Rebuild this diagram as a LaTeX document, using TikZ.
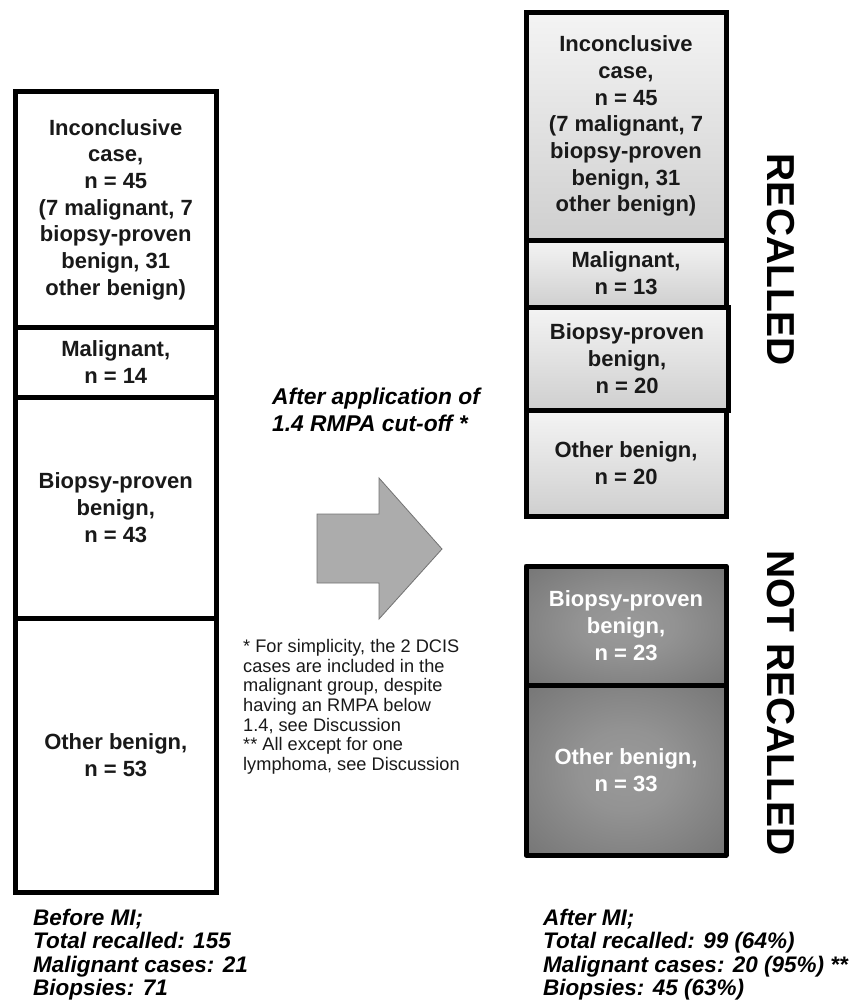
\documentclass[tikz,border=0pt]{standalone}
\usepackage{fontspec}
\setmainfont{Liberation Sans}
\definecolor{nrin}{HTML}{9A9A9A}
\definecolor{nrout}{HTML}{6A6A6A}
\definecolor{rtop}{HTML}{F4F4F4}
\definecolor{rbot}{HTML}{CFCFCF}
\pgfdeclareradialshading{softglow}{\pgfpoint{0bp}{0bp}}{color(0bp)=(nrin); color(12bp)=(nrin!85!nrout); color(45bp)=(nrout); color(71bp)=(nrout)}
\begin{document}
\begin{tikzpicture}[x=1pt,y=-1pt,
  colbox/.style={draw=black, line width=5pt, align=center, inner sep=0pt,
    font=\fontsize{22}{26.7}\selectfont\bfseries, text=black!90},
  plainbox/.style={colbox, fill=white},
  recbox/.style={colbox, top color=rtop, bottom color=rbot},
  notbox/.style={colbox, shading=softglow, line join=round, text=white},
  sidelabel/.style={rotate=-90, font=\fontsize{39}{40}\selectfont\bfseries},
  notes/.style={anchor=north west, inner sep=0pt, align=left},
]
\useasboundingbox (0,0) rectangle (862,1008);

% left column
\node[plainbox, minimum width=200.5pt, minimum height=235pt] (linc) at (115.75,209.5)
  {Inconclusive\\case,\\n = 45\\(7 malignant, 7\\biopsy-proven\\benign, 31\\other benign)};
\node[plainbox, minimum width=200.5pt, minimum height=70.5pt] (lmal) at (115.75,362.25)
  {Malignant,\\n = 14};
\node[plainbox, minimum width=200.5pt, minimum height=220.5pt] (lbio) at (115.75,507.75)
  {Biopsy-proven\\benign,\\n = 43};
\node[plainbox, minimum width=200.5pt, minimum height=274.5pt] (loth) at (115.75,755.25)
  {Other benign,\\n = 53};

% right column, recalled
\node[recbox, minimum width=200pt, minimum height=227.5pt] (rinc) at (626,126.25)
  {Inconclusive\\case,\\n = 45\\(7 malignant, 7\\biopsy-proven\\benign, 31\\other benign)};
\node[recbox, minimum width=200pt, minimum height=67pt] (rmal) at (626,273.5)
  {Malignant,\\n = 13};
\node[recbox, minimum width=202pt, minimum height=103pt] (rbio) at (627,358.5)
  {Biopsy-proven\\benign,\\n = 20};
\node[recbox, minimum width=200pt, minimum height=106pt] (roth) at (626,463)
  {Other benign,\\n = 20};

% right column, not recalled
\node[notbox, minimum width=200pt, minimum height=119pt] (nbio) at (626,625.5)
  {Biopsy-proven\\benign,\\n = 23};
\node[notbox, minimum width=200pt, minimum height=170pt] (noth) at (626,770)
  {Other benign,\\n = 33};

\node[sidelabel] (rec) at (781,260) {RECALLED};
\node[sidelabel] (notrec) at (781,703) {NOT RECALLED};

% block arrow
\draw[fill=gray!65, draw=gray!90!black, line width=0.8pt]
  (317,514) -- (379,514) -- (379,478) -- (442,549) -- (379,619) -- (379,583) -- (317,583) -- cycle;

% title over arrow
\node[notes, font=\fontsize{22.8}{27}\selectfont\bfseries\itshape] (title) at (272,388)
  {After application of\\1.4 RMPA cut-off *};

% footnote
\node[notes, font=\fontsize{18.2}{19.7}\selectfont, text=black!90] (foot) at (243,639)
  {* For simplicity, the 2 DCIS\\cases are included in the\\malignant group, despite\\having an RMPA below\\1.4, see Discussion\\** All except for one\\lymphoma, see Discussion};

% bottom summaries
\node[notes, font=\fontsize{22.5}{23.4}\selectfont\bfseries\itshape] (before) at (33,909)
  {Before MI;\\Total recalled: 155\\Malignant cases: 21\\Biopsies: 71};
\node[notes, font=\fontsize{22.5}{23.4}\selectfont\bfseries\itshape] (after) at (543,909)
  {After MI;\\Total recalled: 99 (64\%)\\Malignant cases: 20 (95\%) **\\Biopsies: 45 (63\%)};
\end{tikzpicture}
\end{document}
